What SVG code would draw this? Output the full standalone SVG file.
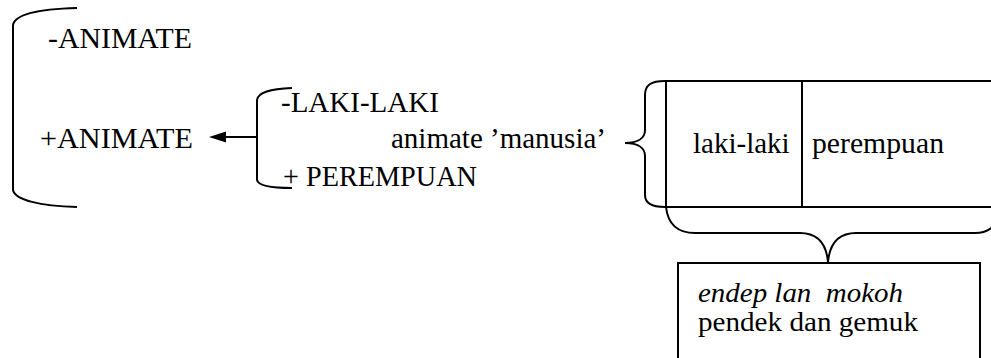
<svg xmlns="http://www.w3.org/2000/svg" width="991" height="358" viewBox="0 0 991 358">
<style>
  text { font-family: 'Liberation Serif', 'DejaVu Serif', serif; font-size: 29px; fill: #000; white-space: pre; }
  .it { font-style: italic; }
  .sm { font-size: 28px; }
  .ln { fill: none; stroke: #000; stroke-width: 2; }
</style>
<rect width="991" height="358" fill="#fff"/>

<g id="animate-group">
  <path class="ln" d="M77 8 C40 9 15 14 13 25 L13 190 C15 200 40 206 77 207"/>
  <text x="48" y="48" textLength="144" lengthAdjust="spacingAndGlyphs">-ANIMATE</text>
  <text x="40" y="148" textLength="153" lengthAdjust="spacingAndGlyphs">+ANIMATE</text>
</g>

<g id="gender-group">
  <path class="ln" d="M292 88 C270 89 258 92 257 100 L257 180 C258 185 270 188 292 188"/>
  <text x="281" y="112">-LAKI-LAKI</text>
  <text x="391" y="148">animate ’manusia’</text>
  <text x="283" y="186" textLength="194" lengthAdjust="spacingAndGlyphs">+ PEREMPUAN</text>
</g>

<g id="table">
  <path class="ln" d="M665 81 C651 81 645 85 645 95 L645 130 C645 138 638 143 625 143 C638 143 645 148 645 156 L645 195 C645 203 651 207 665 207"/>
  <line class="ln" x1="666" y1="81" x2="991" y2="81"/>
  <line class="ln" x1="666" y1="207" x2="991" y2="207"/>
  <line class="ln" x1="666" y1="80" x2="666" y2="208"/>
  <line class="ln" x1="802" y1="81" x2="802" y2="207"/>
  <text x="693" y="153">laki-laki</text>
  <text x="812" y="153" textLength="132" lengthAdjust="spacingAndGlyphs">perempuan</text>
</g>

<g id="meaning-box">
  <path class="ln" d="M666 207 C668 225 678 233 695 233 L800 233 C815 233 826 240 828 262 C830 240 841 233 856 233 L975 233 C990 233 998 225 1003 207"/>
  <path class="ln" d="M678 360 L678 263 L980 263 L980 360"/>
  <text class="it sm" x="698" y="302" textLength="205" lengthAdjust="spacingAndGlyphs">endep lan  mokoh</text>
  <text class="sm" x="698" y="331" textLength="220" lengthAdjust="spacingAndGlyphs">pendek dan gemuk</text>
</g>

<g id="connectors">
  <line class="ln" x1="257" y1="137" x2="222" y2="137"/>
  <polygon points="209,137 226,131.5 226,142.5" fill="#000"/>
</g>
</svg>
